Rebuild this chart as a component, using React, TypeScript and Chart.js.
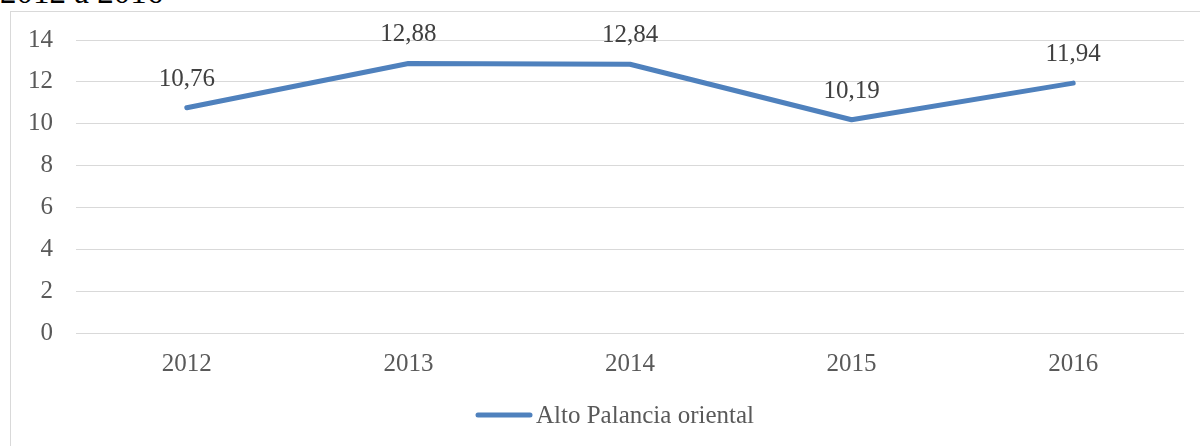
import React, { useEffect, useRef } from "react";
import { Chart, registerables } from "chart.js";

Chart.register(...registerables);

const title = "2012 a 2016";
const categories = ["2012", "2013", "2014", "2015", "2016"];
const seriesLabel = "Alto Palancia oriental";
const seriesValues = [10.76, 12.88, 12.84, 10.19, 11.94];
const yTicks = [0, 2, 4, 6, 8, 10, 12, 14];

const FONT = "'Liberation Serif', 'Times New Roman', serif";
const LINE_COLOR = "#4F81BD";

const fmt = (v: number) => v.toFixed(2).replace(".", ",");

const dataLabelPlugin = {
  id: "dataLabels",
  afterDatasetsDraw(chart: any) {
    const ctx = chart.ctx;
    const meta = chart.getDatasetMeta(0);
    const ds = chart.data.datasets[0];
    ctx.save();
    ctx.font = `25px ${FONT}`;
    ctx.fillStyle = "#404040";
    ctx.textAlign = "center";
    ctx.textBaseline = "alphabetic";
    meta.data.forEach((pt: any, i: number) => {
      ctx.fillText(fmt(ds.data[i]), pt.x, pt.y - 22);
    });
    ctx.restore();
  },
};

const legendPlugin = {
  id: "customLegend",
  afterDraw(chart: any) {
    const ctx = chart.ctx;
    const ds = chart.data.datasets[0];
    ctx.save();
    ctx.font = `25px ${FONT}`;
    const textW = ctx.measureText(ds.label).width;
    const lineW = 56;
    const gap = 4;
    const total = lineW + gap + textW;
    const x0 = chart.width / 2 - total / 2;
    const baseY = 411;
    ctx.strokeStyle = LINE_COLOR;
    ctx.lineWidth = 5;
    ctx.lineCap = "round";
    ctx.beginPath();
    ctx.moveTo(x0 + 2, baseY - 8);
    ctx.lineTo(x0 + lineW - 2, baseY - 8);
    ctx.stroke();
    ctx.fillStyle = "#595959";
    ctx.textAlign = "left";
    ctx.textBaseline = "alphabetic";
    ctx.fillText(ds.label, x0 + lineW + gap, baseY);
    ctx.restore();
  },
};

export default function App() {
  const ref = useRef<HTMLCanvasElement | null>(null);

  useEffect(() => {
    if (!ref.current) return;
    const chart = new Chart(ref.current, {
      type: "line",
      data: {
        labels: categories,
        datasets: [
          {
            label: seriesLabel,
            data: seriesValues,
            borderColor: LINE_COLOR,
            backgroundColor: LINE_COLOR,
            borderWidth: 5,
            borderCapStyle: "round",
            borderJoinStyle: "round",
            pointRadius: 0,
            pointHoverRadius: 0,
            tension: 0,
            fill: false,
          },
        ],
      },
      options: {
        responsive: false,
        maintainAspectRatio: false,
        animation: false,
        layout: { padding: { top: 28, right: 35, left: 0, bottom: 0 } },
        plugins: {
          legend: { display: false },
          tooltip: { enabled: false },
          title: { display: false },
        },
        scales: {
          x: {
            type: "category",
            offset: true,
            grid: { display: false, drawTicks: false },
            border: { display: false },
            ticks: {
              color: "#595959",
              font: { family: FONT, size: 25 },
              padding: 16,
              maxRotation: 0,
            },
            afterFit: (scale: any) => {
              scale.height = 113;
            },
          },
          y: {
            min: 0,
            max: 14,
            afterBuildTicks: (scale: any) => {
              scale.ticks = yTicks.map((v) => ({ value: v }));
            },
            grid: { color: "#d9d9d9", lineWidth: 1, drawTicks: false },
            border: { display: false },
            ticks: {
              color: "#595959",
              font: { family: FONT, size: 25 },
              padding: 23,
            },
            afterFit: (scale: any) => {
              scale.width = 65;
              scale.paddingTop = 0;
              scale.paddingBottom = 0;
            },
          },
        },
      },
      plugins: [dataLabelPlugin, legendPlugin],
    });
    return () => chart.destroy();
  }, []);

  return (
    <div
      style={{
        position: "fixed",
        left: 0,
        top: 0,
        width: 1200,
        height: 446,
        overflow: "hidden",
        background: "#ffffff",
      }}
    >
      <div
        style={{
          position: "absolute",
          left: 0,
          top: -24,
          fontFamily: FONT,
          fontSize: 33,
          lineHeight: "33px",
          color: "#000",
          whiteSpace: "nowrap",
        }}
      >
        {title}
      </div>
      <div
        style={{
          position: "absolute",
          left: 10,
          top: 11,
          width: 1208,
          height: 500,
          border: "1px solid #d9d9d9",
        }}
      >
        <canvas ref={ref} width={1208} height={434} style={{ display: "block" }} />
      </div>
    </div>
  );
}
